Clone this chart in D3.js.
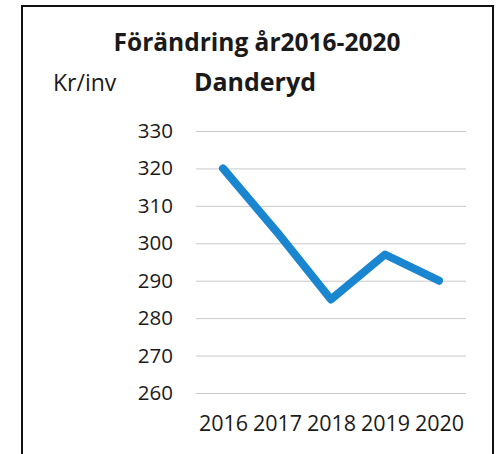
<!DOCTYPE html>
<html><head><meta charset="utf-8">
<script src="https://cdn.jsdelivr.net/npm/d3@7/dist/d3.min.js"></script>
<style>body{margin:0;background:#fff}svg{display:block}text{font-family:"Open Sans",sans-serif;fill:#1a1a1a}</style>
</head><body>
<script>
const years = ["2016","2017","2018","2019","2020"];
const values = [320, 303, 285, 297, 290];
const yTicks = [260,270,280,290,300,310,320,330];
const title = "Förändring år2016-2020";
const subtitle = "Danderyd";
const unit = "Kr/inv";

const W=502,H=454;
const svg=d3.select("body").append("svg").attr("width",W).attr("height",H);
svg.append("rect").attr("x",0).attr("y",0).attr("width",W).attr("height",H).attr("fill","#fff");
svg.append("rect").attr("x",22).attr("y",6).attr("width",471).attr("height",470)
  .attr("fill","none").attr("stroke","#111").attr("stroke-width",2);

const x=d3.scalePoint().domain(years).range([196,466]).padding(0.5);
const y=d3.scaleLinear().domain([260,330]).range([393,131]);

svg.append("text").attr("x",257).attr("y",51).attr("text-anchor","middle")
  .attr("font-size",24.5).attr("font-weight","bold").text(title);
svg.append("text").attr("x",255).attr("y",91).attr("text-anchor","middle")
  .attr("font-size",25).attr("font-weight","bold").text(subtitle);
svg.append("text").attr("x",53).attr("y",91).attr("font-size",23).text(unit);

const gy=svg.append("g").attr("transform","translate(196,0)")
  .call(d3.axisLeft(y).tickValues(yTicks).tickSize(-270).tickPadding(23).tickFormat(d3.format("d")));
gy.select(".domain").remove();
gy.selectAll(".tick line").attr("stroke","#c9c9c9").attr("stroke-width",1);
gy.selectAll(".tick text").attr("font-size",20.5).attr("font-family","Open Sans").attr("fill","#1a1a1a");

const gx=svg.append("g").attr("transform","translate(0,393)")
  .call(d3.axisBottom(x).tickSize(0).tickPadding(23));
gx.select(".domain").remove();
gx.selectAll(".tick text").attr("font-size",21.5).attr("font-family","Open Sans").attr("fill","#1a1a1a");

svg.append("path").datum(values)
  .attr("d",d3.line().x((d,i)=>x(years[i])).y(d=>y(d)))
  .attr("fill","none").attr("stroke","#1a86d0").attr("stroke-width",8)
  .attr("stroke-linejoin","round").attr("stroke-linecap","round");
</script>
</body></html>
